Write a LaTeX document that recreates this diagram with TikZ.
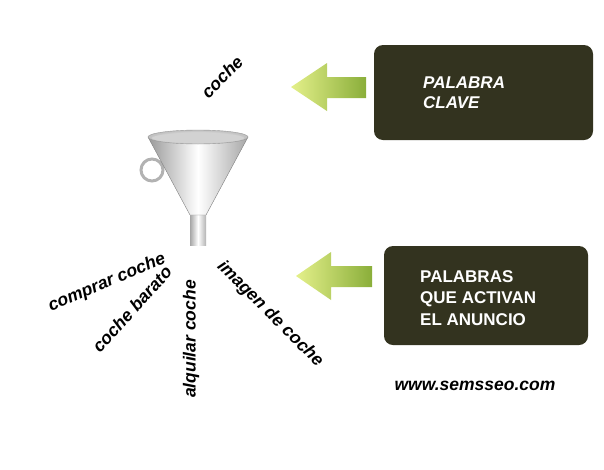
\documentclass[tikz,border=0pt]{standalone}
\usepackage{fontspec}
\setmainfont{Liberation Sans}
\begin{document}
\begin{tikzpicture}[x=1pt,y=-1pt,
  lbl/.style={font=\bfseries\itshape\fontsize{17.5}{19}\selectfont,inner sep=0},
  darkbox/.style={fill=boxc,rounded corners=9pt,draw=none},
  btxt/.style={text=white,align=left,anchor=west,inner sep=0}]
\definecolor{boxc}{HTML}{33331F}
\definecolor{grn1}{HTML}{E4F08A}
\definecolor{grn2}{HTML}{8AAE3A}
\useasboundingbox (0,0) rectangle (604,469);
% boxes
\node[darkbox,minimum width=219pt,minimum height=95pt] (b1) at (483.5,92.5) {};
\node[darkbox,minimum width=204pt,minimum height=99pt] (b2) at (486,295.5) {};
\node[btxt,font=\bfseries\itshape\fontsize{17}{20}\selectfont] (t1) at (423,93) {PALABRA\\CLAVE};
\node[btxt,font=\bfseries\fontsize{17}{21.5}\selectfont] (t2) at (420,298) {PALABRAS\\QUE ACTIVAN\\EL ANUNCIO};
% arrows
\shade[left color=grn1,right color=grn2] (291,87) -- (327,63) -- (327,77) -- (366,77) -- (366,98) -- (327,98) -- (327,111) -- cycle;
\shade[left color=grn1,right color=grn2] (296,276) -- (331,252) -- (331,266) -- (372,266) -- (372,287) -- (331,287) -- (331,300) -- cycle;
% funnel
\shade[left color=gray!70,right color=gray!60,middle color=white] (190,215) -- (190,245) -- (206,245) -- (206,215) -- cycle;
\draw[gray!60,line width=3pt] (152,170) circle (11);
\shade[left color=gray!80,right color=gray!70,middle color=white,draw=gray] (148,137) -- (190,215) -- (206,215) -- (248,137) -- cycle;
\shade[inner color=white,outer color=gray!50,draw=gray!80] (198,137) ellipse (50 and 7);
\fill[gray!35] (198,138) ellipse (46 and 5);
% labels
\node[lbl,rotate=45] (w1) at (222,77) {coche};
\node[lbl,rotate=23] (w2) at (107,283) {comprar coche};
\node[lbl,rotate=48] (w3) at (132,309) {coche barato};
\node[lbl,rotate=90] (w4) at (191,339) {alquilar coche};
\node[lbl,rotate=-45] (w5) at (270,314) {imagen de coche};
\node[lbl] (w6) at (475,386) {www.semsseo.com};
\end{tikzpicture}
\end{document}
